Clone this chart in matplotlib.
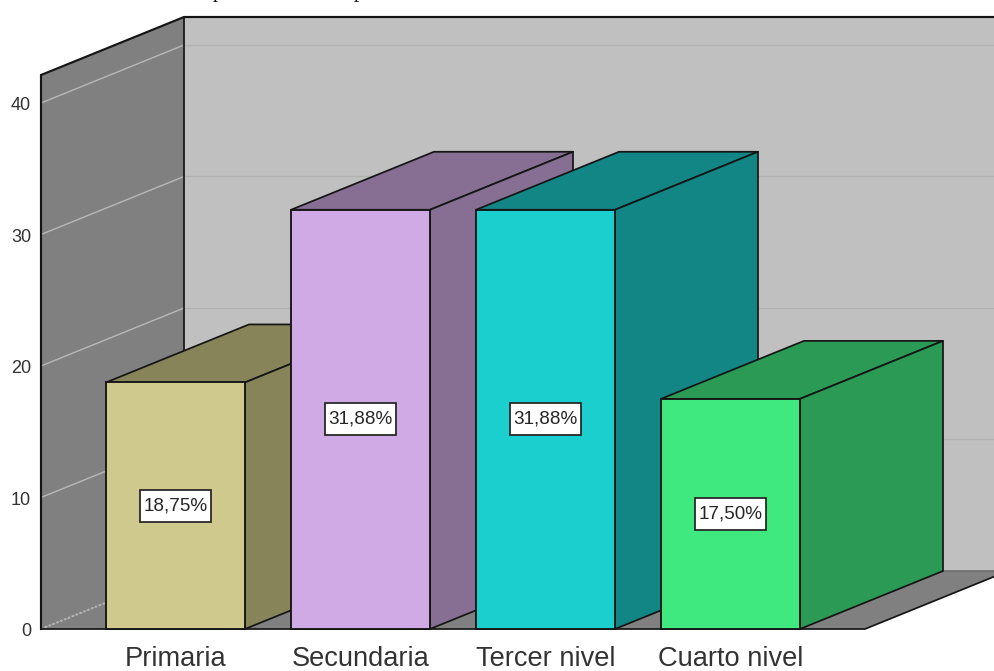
"""Nivel de estudios: 3D-style bar chart drawn on oblique axes."""

from __future__ import annotations

import matplotlib

matplotlib.use("Agg")

import matplotlib.pyplot as plt
from matplotlib.patches import Polygon, Rectangle

categories = ["Primaria", "Secundaria", "Tercer nivel", "Cuarto nivel"]
percentages = [18.75, 31.88, 31.88, 17.50]
value_labels = ["18,75%", "31,88%", "31,88%", "17,50%"]
y_ticks = [0, 10, 20, 30, 40]
front_colors = ["#cfc98d", "#cfaae4", "#1bcfcf", "#40e97f"]
side_colors = ["#88845a", "#866f92", "#128585", "#2a9a55"]

WIDTH, HEIGHT = 995, 671
PX_PER_CATEGORY = 185.0
PX_PER_UNIT = 13.15
ORIGIN_X, ORIGIN_Y = 175.5, 629.0

BAR_WIDTH = 139 / PX_PER_CATEGORY
DEPTH_X = 143 / PX_PER_CATEGORY
DEPTH_Y = 58 / PX_PER_UNIT
WALL_LEFT = (41 - ORIGIN_X) / PX_PER_CATEGORY
FLOOR_RIGHT = (865 - ORIGIN_X) / PX_PER_CATEGORY
WALL_TOP = (629 - 75) / PX_PER_UNIT
LABEL_BOX_W = 71 / PX_PER_CATEGORY
LABEL_BOX_H = 32 / PX_PER_UNIT

LINE = "#151515"
LW = 1.25


def draw_walls(ax):
    back_left = WALL_LEFT + DEPTH_X
    back_right = FLOOR_RIGHT + DEPTH_X
    # left wall, back wall and floor
    ax.add_patch(Polygon(
        [(WALL_LEFT, 0), (WALL_LEFT, WALL_TOP), (back_left, WALL_TOP + DEPTH_Y), (back_left, DEPTH_Y)],
        closed=True, facecolor="#808080", edgecolor="none", zorder=1,
    ))
    ax.add_patch(Polygon(
        [(back_left, DEPTH_Y), (back_left, WALL_TOP + DEPTH_Y), (back_right, WALL_TOP + DEPTH_Y), (back_right, DEPTH_Y)],
        closed=True, facecolor="#c0c0c0", edgecolor="none", zorder=1,
    ))
    ax.add_patch(Polygon(
        [(WALL_LEFT, 0), (FLOOR_RIGHT, 0), (back_right, DEPTH_Y), (back_left, DEPTH_Y)],
        closed=True, facecolor="#808080", edgecolor="none", zorder=1,
    ))

    for tick in y_ticks:
        if tick == 0:
            ax.plot([WALL_LEFT, back_left], [0, DEPTH_Y], color="#b5b5b5", lw=1.5, ls=(0, (1, 1)), zorder=2)
            continue
        ax.plot([WALL_LEFT, back_left], [tick, tick + DEPTH_Y], color="#b8b8b8", lw=1.0, zorder=2)
        ax.plot([back_left, back_right], [tick + DEPTH_Y, tick + DEPTH_Y], color="#b1b1b1", lw=1.0, zorder=2)

    # wall outlines
    ax.plot([WALL_LEFT, WALL_LEFT, back_left, back_right],
            [0, WALL_TOP, WALL_TOP + DEPTH_Y, WALL_TOP + DEPTH_Y],
            color=LINE, lw=LW + 0.3, zorder=3, solid_joinstyle="miter")
    ax.plot([back_left, back_left], [DEPTH_Y, WALL_TOP + DEPTH_Y], color=LINE, lw=LW, zorder=3)
    ax.plot([WALL_LEFT, FLOOR_RIGHT, back_right], [0, 0, DEPTH_Y], color=LINE, lw=LW, zorder=3)
    ax.plot([back_left, back_right], [DEPTH_Y, DEPTH_Y], color="#6e6e6e", lw=LW, zorder=3)


def draw_bar(ax, pos, value, front, side, label, zorder):
    left = pos - BAR_WIDTH / 2
    right = pos + BAR_WIDTH / 2
    ax.add_patch(Polygon(
        [(left, value), (right, value), (right + DEPTH_X, value + DEPTH_Y), (left + DEPTH_X, value + DEPTH_Y)],
        closed=True, facecolor=side, edgecolor=LINE, lw=LW, zorder=zorder, joinstyle="round",
    ))
    ax.add_patch(Polygon(
        [(right, 0), (right, value), (right + DEPTH_X, value + DEPTH_Y), (right + DEPTH_X, DEPTH_Y)],
        closed=True, facecolor=side, edgecolor=LINE, lw=LW, zorder=zorder, joinstyle="round",
    ))
    ax.bar(pos, value, width=BAR_WIDTH, color=front, edgecolor=LINE, linewidth=LW + 0.1, zorder=zorder)
    ax.add_patch(Rectangle(
        (pos - LABEL_BOX_W / 2, value / 2 - LABEL_BOX_H / 2), LABEL_BOX_W, LABEL_BOX_H,
        facecolor="white", edgecolor="#222222", lw=LW, zorder=19,
    ))
    ax.text(pos, value / 2, label, ha="center", va="center", fontsize=13.6, color="#262626", zorder=20)


def main() -> None:
    plt.rcParams["font.family"] = ["Liberation Sans", "DejaVu Sans"]
    fig = plt.figure(figsize=(WIDTH / 100, HEIGHT / 100), dpi=100, facecolor="white")
    ax = fig.add_axes([0, 0, 1, 1])
    ax.set_xlim(-ORIGIN_X / PX_PER_CATEGORY, (WIDTH - ORIGIN_X) / PX_PER_CATEGORY)
    ax.set_ylim(-(HEIGHT - ORIGIN_Y) / PX_PER_UNIT, ORIGIN_Y / PX_PER_UNIT)
    ax.axis("off")

    draw_walls(ax)

    for i, value in enumerate(percentages):
        draw_bar(ax, i, value, front_colors[i], side_colors[i], value_labels[i], 5 + i)
        ax.text(i, -37 / PX_PER_UNIT, categories[i], ha="center", va="baseline", fontsize=19.6, color="#333333")

    # tick numbers sit a little below their gridlines
    for tick in y_ticks:
        ax.text(WALL_LEFT - 10 / PX_PER_CATEGORY, tick - 3 / PX_PER_UNIT, str(tick), ha="right", va="center",
                fontsize=13, color="#333333")

    # feet of the title glyphs cut off by the top edge
    for x_px in (218, 359):
        ax.text((x_px - ORIGIN_X) / PX_PER_CATEGORY, (ORIGIN_Y + 2.5) / PX_PER_UNIT, "p", ha="center",
                va="baseline", fontsize=15, family="Liberation Serif", color="#111111", clip_on=True)

    fig.savefig("out.png", dpi=100, facecolor="white")


if __name__ == "__main__":
    main()
